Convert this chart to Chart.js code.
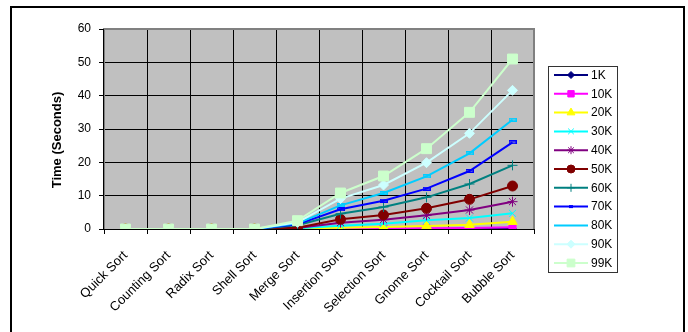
<!DOCTYPE html>
<html>
<head>
<meta charset="utf-8">
<script src="https://cdn.jsdelivr.net/npm/chart.js@4/dist/chart.umd.min.js"></script>
<style>
  html, body { margin: 0; padding: 0; background: #ffffff; }
  #wrap { position: relative; width: 688px; height: 332px; }
</style>
</head>
<body>
<div id="wrap"><canvas id="c" width="688" height="332"></canvas></div>
<script>
// Sorting algorithms benchmarked
const categories = ['Quick Sort', 'Counting Sort', 'Radix Sort', 'Shell Sort', 'Merge Sort',
  'Insertion Sort', 'Selection Sort', 'Gnome Sort', 'Cocktail Sort', 'Bubble Sort'];

// Input sizes (one line per size)
const seriesNames = ['1K', '10K', '20K', '30K', '40K', '50K', '60K', '70K', '80K', '90K', '99K'];

// Y axis tick values (seconds)
const yTicks = [0, 10, 20, 30, 40, 50, 60];

// Run times in seconds, per input size
const t1K  = [0, 0, 0, 0, 0,    0,    0,    0,    0,    0];
const t10K = [0, 0, 0, 0, 0.05, 0.1,  0.15, 0.2,  0.3,  0.5];
const t20K = [0, 0, 0, 0, 0.1,  0.4,  0.6,  0.9,  1.3,  2.2];
const t30K = [0, 0, 0, 0, 0.2,  1.0,  1.6,  2.6,  3.3,  4.7];
const t40K = [0, 0, 0, 0, 0.3,  1.9,  2.8,  4.1,  5.7,  8.2];
const t50K = [0, 0, 0, 0, 0.4,  2.9,  4.2,  6.2,  8.9,  12.9];
const t60K = [0, 0, 0, 0, 1.1,  4.6,  6.6,  9.5,  13.5, 19.1];
const t70K = [0, 0, 0, 0, 1.4,  5.9,  8.5,  12.1, 17.4, 26.0];
const t80K = [0, 0, 0, 0, 1.7,  7.1,  10.8, 15.8, 22.7, 32.8];
const t90K = [0, 0, 0, 0, 2.0,  9.1,  13.2, 19.9, 28.7, 41.6];
const t99K = [0, 0, 0, 0, 2.5,  10.8, 15.9, 24.1, 35.0, 51.0];

const seriesValues = [t1K, t10K, t20K, t30K, t40K, t50K, t60K, t70K, t80K, t90K, t99K];

const FONT = "'Liberation Sans', Arial, sans-serif";

// small bar-shaped marker
function dashMarker(color, w, h) {
  const c = document.createElement('canvas');
  c.width = w; c.height = h;
  const g = c.getContext('2d');
  g.fillStyle = color;
  g.globalAlpha = 0.55;
  g.fillRect(0, 0, w, h);
  g.globalAlpha = 1;
  g.strokeStyle = color;
  g.lineWidth = 1;
  g.strokeRect(0.5, 0.5, w - 1, h - 1);
  return c;
}

const styles = [
  { color: '#000080', point: 'rectRot',  r: 4,   lr: 3.5 },
  { color: '#FF00FF', point: 'rect',     r: 5,   lr: 4.5 },
  { color: '#FFFF00', point: 'triangle', r: 5.5, lr: 4.5 },
  { color: '#00FFFF', point: 'crossRot', r: 5,   lr: 4 },
  { color: '#800080', point: 'star',     r: 5,   lr: 4 },
  { color: '#800000', point: 'circle',   r: 5,   lr: 4 },
  { color: '#008080', point: 'cross',    r: 5,   lr: 4 },
  { color: '#0000FF', point: dashMarker('#0000FF', 8, 4), r: 4, lr: 0, legendDash: true },
  { color: '#00CCFF', point: dashMarker('#00CCFF', 8, 4), r: 4, lr: 0 },
  { color: '#CCFFFF', point: 'rectRot',  r: 5,   lr: 4 },
  { color: '#CCFFCC', point: 'rect',     r: 7,   lr: 5.5 }
];

const datasets = seriesNames.map((name, i) => ({
  label: name,
  data: seriesValues[i],
  borderColor: styles[i].color,
  backgroundColor: styles[i].color,
  borderWidth: 2,
  pointStyle: styles[i].point,
  pointRadius: styles[i].r,
  pointBorderWidth: 1,
  pointBorderColor: styles[i].color,
  pointBackgroundColor: styles[i].color,
  tension: 0,
  fill: false,
  order: seriesNames.length - i
}));

// grey plot area and its border
const plotArea = {
  id: 'plotArea',
  beforeDraw(chart) {
    const { ctx, chartArea: a } = chart;
    ctx.save();
    ctx.fillStyle = '#ffffff';
    ctx.fillRect(0, 0, chart.width, chart.height);
    ctx.fillStyle = '#C0C0C0';
    ctx.fillRect(a.left, a.top, a.right - a.left, a.bottom - a.top);
    ctx.restore();
  },
  beforeDatasetsDraw(chart) {
    const { ctx, chartArea: a } = chart;
    ctx.save();
    ctx.strokeStyle = '#808080';
    ctx.lineWidth = 2;
    ctx.beginPath();
    ctx.moveTo(a.left, a.bottom);
    ctx.lineTo(a.left, a.top);
    ctx.lineTo(a.right, a.top);
    ctx.lineTo(a.right, a.bottom);
    ctx.stroke();
    ctx.strokeStyle = '#000000';
    ctx.lineWidth = 1;
    ctx.beginPath();
    ctx.moveTo(a.left - 0.5, a.bottom);
    ctx.lineTo(a.left - 0.5, a.top);
    ctx.stroke();
    ctx.restore();
  }
};

// outer frame, axis title and boxed legend
const decorations = {
  id: 'decorations',
  afterDraw(chart) {
    const ctx = chart.ctx;
    ctx.save();
    // frame
    ctx.strokeStyle = '#000000';
    ctx.lineWidth = 2;
    ctx.strokeRect(11, 7, 673, 400);

    // y axis title
    ctx.save();
    ctx.translate(57, 140);
    ctx.rotate(-Math.PI / 2);
    ctx.font = 'bold 13px ' + FONT;
    ctx.fillStyle = '#000000';
    ctx.textAlign = 'center';
    ctx.textBaseline = 'middle';
    ctx.fillText('Time (Seconds)', 0, 0);
    ctx.restore();

    // legend box
    const bx = 548, by = 66, bw = 69, bh = 206;
    ctx.fillStyle = '#ffffff';
    ctx.fillRect(bx, by, bw, bh);
    ctx.strokeStyle = '#333333';
    ctx.lineWidth = 1;
    ctx.strokeRect(bx + 0.5, by + 0.5, bw, bh);

    ctx.font = '12px ' + FONT;
    ctx.textAlign = 'left';
    ctx.textBaseline = 'middle';
    chart.data.datasets.forEach((ds, i) => {
      const y = 75 + i * 18.8;
      const st = styles[i];
      ctx.strokeStyle = ds.borderColor;
      ctx.lineWidth = 2;
      ctx.beginPath();
      ctx.moveTo(554, y);
      ctx.lineTo(588, y);
      ctx.stroke();
      ctx.fillStyle = ds.borderColor;
      ctx.strokeStyle = ds.borderColor;
      ctx.lineWidth = 1;
      if (st.legendDash) {
        ctx.fillRect(569, y - 1.5, 4, 3);
      } else if (st.lr > 0 && Chart.helpers && Chart.helpers.drawPoint) {
        Chart.helpers.drawPoint(ctx, { pointStyle: st.point, radius: st.lr, borderWidth: 1, rotation: 0 }, 571, y);
      }
      ctx.fillStyle = '#000000';
      ctx.fillText(ds.label, 591, y + 0.5);
    });
    ctx.restore();
  }
};

new Chart(document.getElementById('c'), {
  type: 'line',
  data: { labels: categories, datasets: datasets },
  options: {
    responsive: false,
    animation: false,
    events: [],
    layout: { padding: { left: 0, top: 29, right: 154, bottom: 0 } },
    plugins: { legend: { display: false }, tooltip: { enabled: false }, title: { display: false } },
    scales: {
      x: {
        offset: true,
        grid: { color: '#000000', lineWidth: 1, offset: true, tickLength: 5 },
        border: { color: '#000000', width: 1 },
        ticks: {
          color: '#000000',
          font: { family: FONT, size: 13 },
          minRotation: 45,
          maxRotation: 45,
          autoSkip: false,
          padding: 14
        },
        afterFit(s) { s.height = 103; }
      },
      y: {
        min: yTicks[0],
        max: yTicks[yTicks.length - 1],
        afterBuildTicks(s) { s.ticks = yTicks.map(v => ({ value: v })); },
        grid: { color: '#000000', lineWidth: 1, tickLength: 5 },
        border: { color: '#000000', width: 1 },
        ticks: { color: '#000000', font: { family: FONT, size: 12 }, padding: 8 },
        afterFit(s) { s.width = 104; }
      }
    }
  },
  plugins: [plotArea, decorations]
});
</script>
</body>
</html>
